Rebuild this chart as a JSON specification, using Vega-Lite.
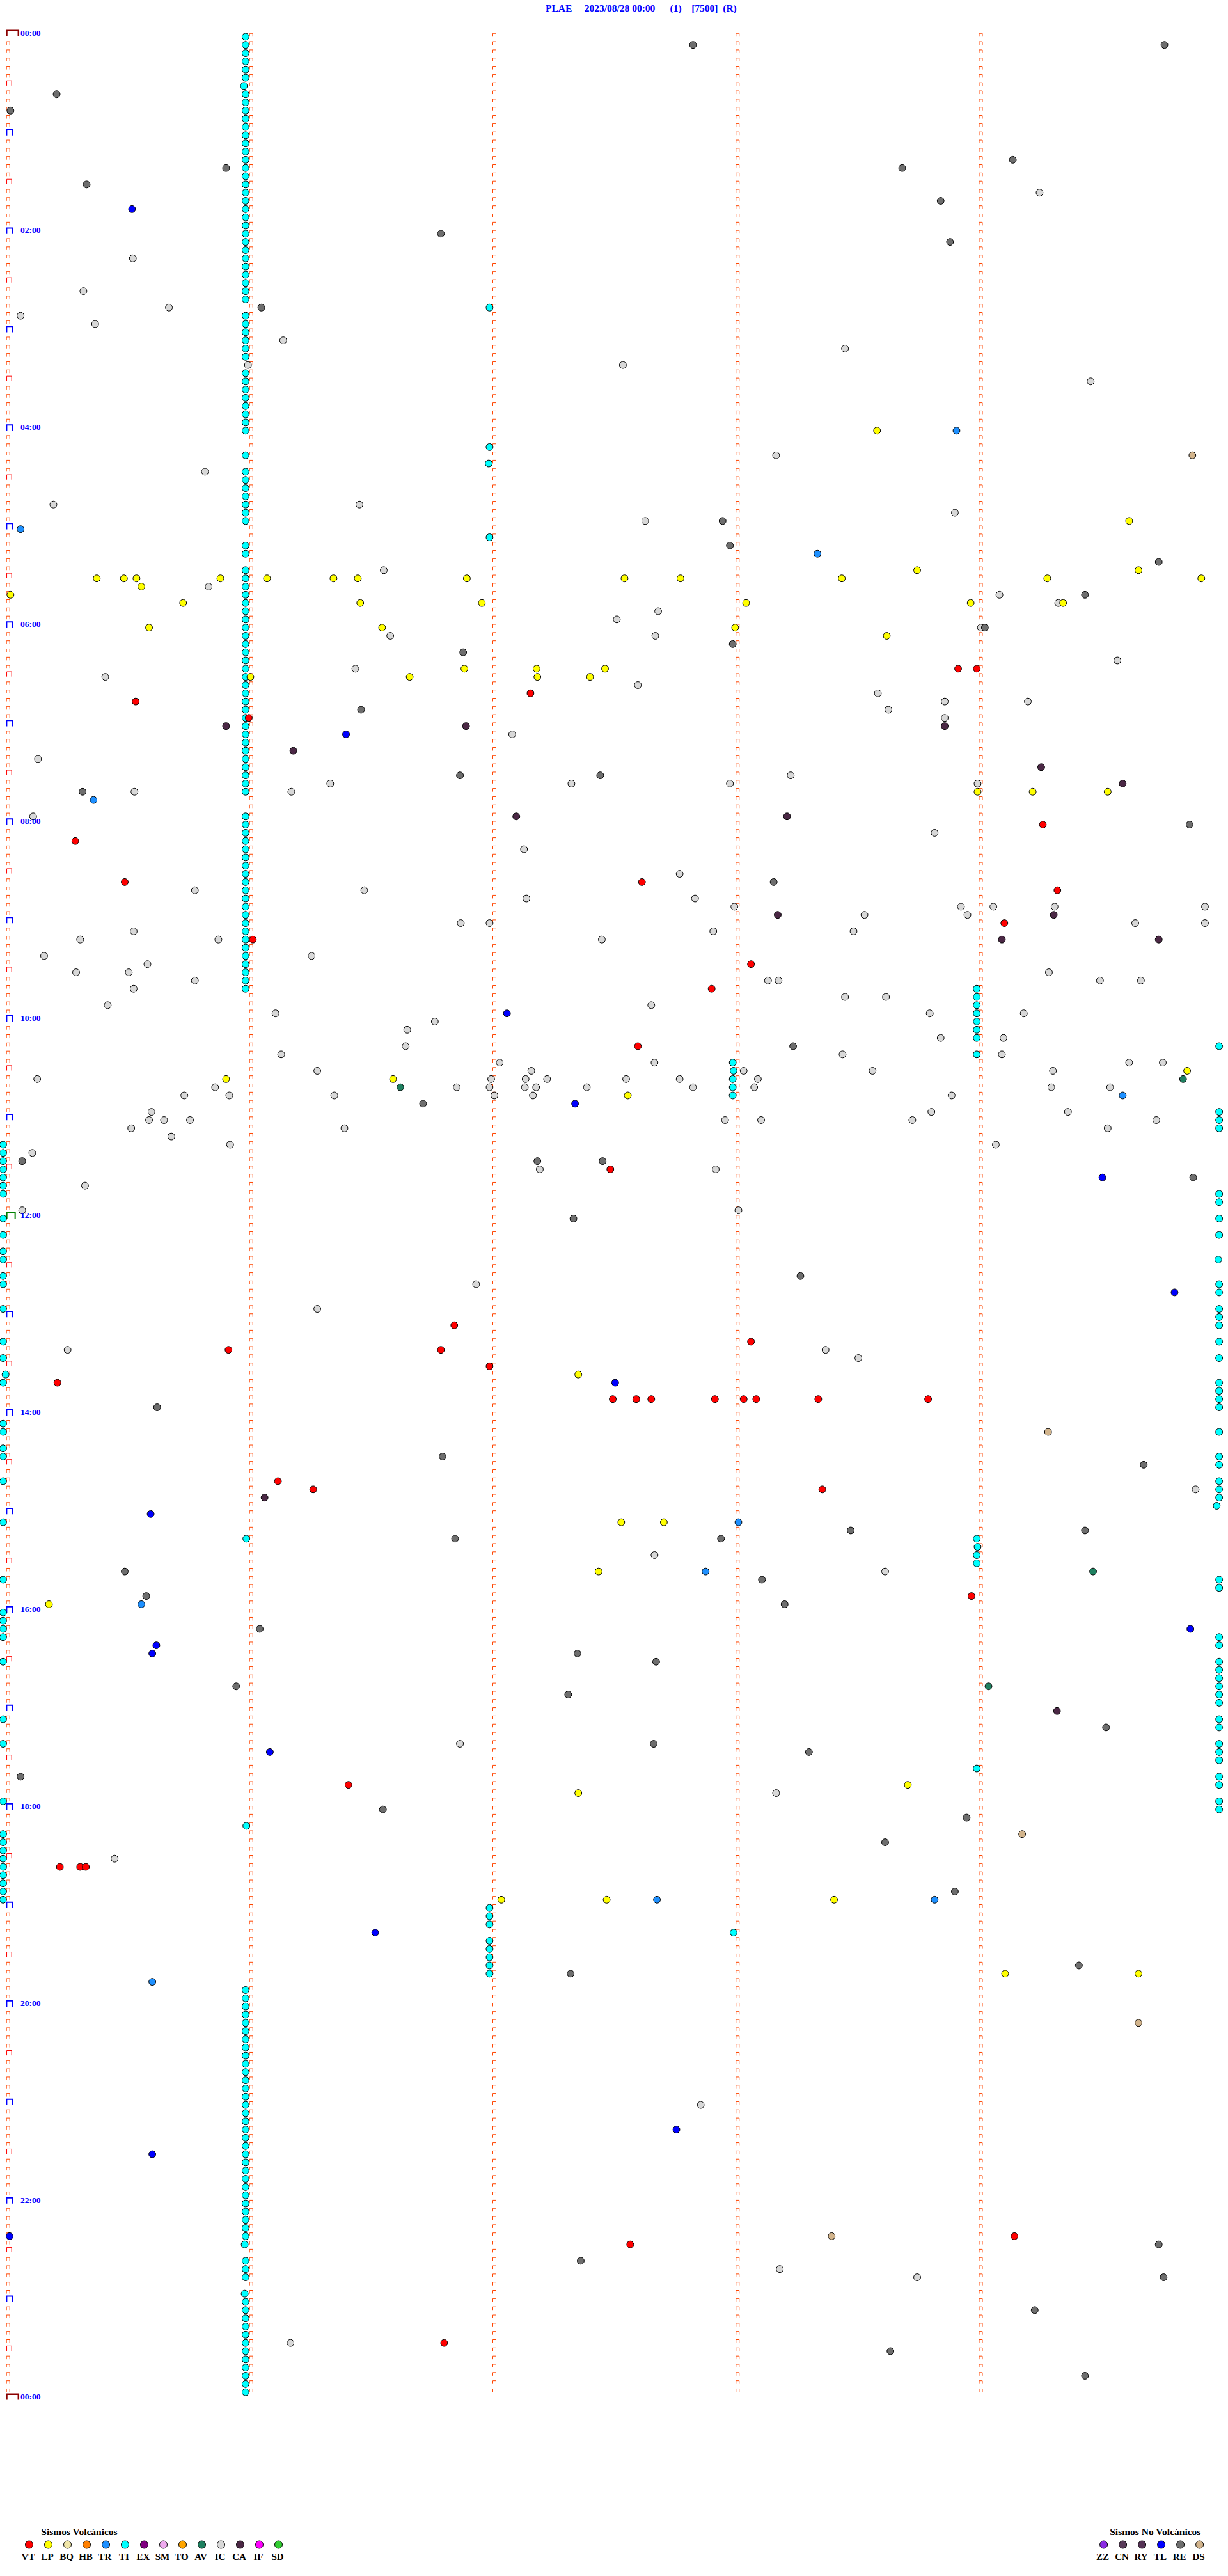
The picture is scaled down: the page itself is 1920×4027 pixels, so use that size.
{
"$schema": "https://vega.github.io/schema/vega-lite/v6.json",
"padding": {"top": 5, "left": 0, "right": 0, "bottom": 0},
"spacing": 0,
"background": "white",
"config": {"view": {"stroke": null}},
"title": {"text": "PLAE\u00a0\u00a0\u00a0\u00a0\u00a02023/08/28 00:00\u00a0\u00a0\u00a0\u00a0\u00a0\u00a0(1)\u00a0\u00a0\u00a0\u00a0[7500]\u00a0\u00a0(R)", "anchor": "start", "dx": 853, "font": "Liberation Serif", "fontSize": 15.5, "fontWeight": "bold", "color": "#0000FF", "offset": 4},
"datasets": {
"ticks": [{"r":0},{"r":1},{"r":2},{"r":3},{"r":4},{"r":5},{"r":6},{"r":7},{"r":8},{"r":9},{"r":10},{"r":11},{"r":12},{"r":13},{"r":14},{"r":15},{"r":16},{"r":17},{"r":18},{"r":19},{"r":20},{"r":21},{"r":22},{"r":23},{"r":24},{"r":25},{"r":26},{"r":27},{"r":28},{"r":29},{"r":30},{"r":31},{"r":32},{"r":33},{"r":34},{"r":35},{"r":36},{"r":37},{"r":38},{"r":39},{"r":40},{"r":41},{"r":42},{"r":43},{"r":44},{"r":45},{"r":46},{"r":47},{"r":48},{"r":49},{"r":50},{"r":51},{"r":52},{"r":53},{"r":54},{"r":55},{"r":56},{"r":57},{"r":58},{"r":59},{"r":60},{"r":61},{"r":62},{"r":63},{"r":64},{"r":65},{"r":66},{"r":67},{"r":68},{"r":69},{"r":70},{"r":71},{"r":72},{"r":73},{"r":74},{"r":75},{"r":76},{"r":77},{"r":78},{"r":79},{"r":80},{"r":81},{"r":82},{"r":83},{"r":84},{"r":85},{"r":86},{"r":87},{"r":88},{"r":89},{"r":90},{"r":91},{"r":92},{"r":93},{"r":94},{"r":95},{"r":96},{"r":97},{"r":98},{"r":99},{"r":100},{"r":101},{"r":102},{"r":103},{"r":104},{"r":105},{"r":106},{"r":107},{"r":108},{"r":109},{"r":110},{"r":111},{"r":112},{"r":113},{"r":114},{"r":115},{"r":116},{"r":117},{"r":118},{"r":119},{"r":120},{"r":121},{"r":122},{"r":123},{"r":124},{"r":125},{"r":126},{"r":127},{"r":128},{"r":129},{"r":130},{"r":131},{"r":132},{"r":133},{"r":134},{"r":135},{"r":136},{"r":137},{"r":138},{"r":139},{"r":140},{"r":141},{"r":142},{"r":143},{"r":144},{"r":145},{"r":146},{"r":147},{"r":148},{"r":149},{"r":150},{"r":151},{"r":152},{"r":153},{"r":154},{"r":155},{"r":156},{"r":157},{"r":158},{"r":159},{"r":160},{"r":161},{"r":162},{"r":163},{"r":164},{"r":165},{"r":166},{"r":167},{"r":168},{"r":169},{"r":170},{"r":171},{"r":172},{"r":173},{"r":174},{"r":175},{"r":176},{"r":177},{"r":178},{"r":179},{"r":180},{"r":181},{"r":182},{"r":183},{"r":184},{"r":185},{"r":186},{"r":187},{"r":188},{"r":189},{"r":190},{"r":191},{"r":192},{"r":193},{"r":194},{"r":195},{"r":196},{"r":197},{"r":198},{"r":199},{"r":200},{"r":201},{"r":202},{"r":203},{"r":204},{"r":205},{"r":206},{"r":207},{"r":208},{"r":209},{"r":210},{"r":211},{"r":212},{"r":213},{"r":214},{"r":215},{"r":216},{"r":217},{"r":218},{"r":219},{"r":220},{"r":221},{"r":222},{"r":223},{"r":224},{"r":225},{"r":226},{"r":227},{"r":228},{"r":229},{"r":230},{"r":231},{"r":232},{"r":233},{"r":234},{"r":235},{"r":236},{"r":237},{"r":238},{"r":239},{"r":240},{"r":241},{"r":242},{"r":243},{"r":244},{"r":245},{"r":246},{"r":247},{"r":248},{"r":249},{"r":250},{"r":251},{"r":252},{"r":253},{"r":254},{"r":255},{"r":256},{"r":257},{"r":258},{"r":259},{"r":260},{"r":261},{"r":262},{"r":263},{"r":264},{"r":265},{"r":266},{"r":267},{"r":268},{"r":269},{"r":270},{"r":271},{"r":272},{"r":273},{"r":274},{"r":275},{"r":276},{"r":277},{"r":278},{"r":279},{"r":280},{"r":281},{"r":282},{"r":283},{"r":284},{"r":285},{"r":286},{"r":287},{"r":288}],
"hrs": [{"r":0,"lbl":"00:00"},{"r":24,"lbl":"02:00"},{"r":48,"lbl":"04:00"},{"r":72,"lbl":"06:00"},{"r":96,"lbl":"08:00"},{"r":120,"lbl":"10:00"},{"r":144,"lbl":"12:00"},{"r":168,"lbl":"14:00"},{"r":192,"lbl":"16:00"},{"r":216,"lbl":"18:00"},{"r":240,"lbl":"20:00"},{"r":264,"lbl":"22:00"},{"r":288,"lbl":"00:00"}],
"ev": [
{"r":0,"s":58.6,"t":"TI"},{"r":1,"s":58.6,"t":"TI"},{"r":2,"s":58.6,"t":"TI"},{"r":3,"s":58.6,"t":"TI"},{"r":4,"s":58.6,"t":"TI"},{"r":5,"s":58.6,"t":"TI"},{"r":6,"s":58.2,"t":"TI"},{"r":7,"s":58.6,"t":"TI"},{"r":8,"s":58.6,"t":"TI"},{"r":9,"s":58.6,"t":"TI"},{"r":10,"s":58.6,"t":"TI"},{"r":11,"s":58.6,"t":"TI"},{"r":12,"s":58.6,"t":"TI"},{"r":13,"s":58.6,"t":"TI"},{"r":14,"s":58.6,"t":"TI"},{"r":15,"s":58.6,"t":"TI"},{"r":16,"s":58.6,"t":"TI"},{"r":17,"s":58.6,"t":"TI"},{"r":18,"s":58.6,"t":"TI"},{"r":19,"s":58.6,"t":"TI"},{"r":20,"s":58.6,"t":"TI"},{"r":21,"s":58.6,"t":"TI"},{"r":22,"s":58.6,"t":"TI"},{"r":23,"s":58.6,"t":"TI"},{"r":24,"s":58.6,"t":"TI"},{"r":25,"s":58.6,"t":"TI"},{"r":26,"s":58.6,"t":"TI"},{"r":27,"s":58.6,"t":"TI"},{"r":28,"s":58.6,"t":"TI"},{"r":29,"s":58.6,"t":"TI"},{"r":30,"s":58.6,"t":"TI"},{"r":31,"s":58.6,"t":"TI"},{"r":32,"s":58.6,"t":"TI"},
{"r":34,"s":58.6,"t":"TI"},{"r":35,"s":58.6,"t":"TI"},{"r":36,"s":58.6,"t":"TI"},{"r":37,"s":58.6,"t":"TI"},{"r":38,"s":58.6,"t":"TI"},{"r":39,"s":58.6,"t":"TI"},{"r":41,"s":58.6,"t":"TI"},{"r":42,"s":58.6,"t":"TI"},{"r":43,"s":58.6,"t":"TI"},{"r":44,"s":58.6,"t":"TI"},{"r":45,"s":58.6,"t":"TI"},{"r":46,"s":58.6,"t":"TI"},{"r":47,"s":58.6,"t":"TI"},{"r":48,"s":58.6,"t":"TI"},
{"r":51,"s":58.6,"t":"TI"},{"r":53,"s":58.6,"t":"TI"},{"r":54,"s":58.6,"t":"TI"},{"r":55,"s":58.6,"t":"TI"},{"r":56,"s":58.6,"t":"TI"},{"r":57,"s":58.6,"t":"TI"},{"r":58,"s":58.6,"t":"TI"},{"r":59,"s":58.6,"t":"TI"},{"r":62,"s":58.6,"t":"TI"},{"r":63,"s":58.6,"t":"TI"},
{"r":65,"s":58.6,"t":"TI"},{"r":66,"s":58.6,"t":"TI"},{"r":67,"s":58.6,"t":"TI"},{"r":68,"s":58.6,"t":"TI"},{"r":69,"s":58.6,"t":"TI"},{"r":70,"s":58.6,"t":"TI"},{"r":71,"s":58.6,"t":"TI"},{"r":72,"s":58.6,"t":"TI"},{"r":73,"s":58.6,"t":"TI"},{"r":74,"s":58.6,"t":"TI"},{"r":75,"s":58.6,"t":"TI"},{"r":76,"s":58.6,"t":"TI"},{"r":77,"s":58.6,"t":"TI"},{"r":78,"s":58.6,"t":"TI"},{"r":79,"s":58.6,"t":"TI"},{"r":80,"s":58.6,"t":"TI"},{"r":81,"s":58.6,"t":"TI"},{"r":82,"s":58.6,"t":"TI"},{"r":83,"s":58.6,"t":"TI"},{"r":84,"s":58.6,"t":"TI"},{"r":85,"s":58.6,"t":"TI"},{"r":86,"s":58.6,"t":"TI"},{"r":87,"s":58.6,"t":"TI"},{"r":88,"s":58.6,"t":"TI"},{"r":89,"s":58.6,"t":"TI"},{"r":90,"s":58.6,"t":"TI"},{"r":91,"s":58.6,"t":"TI"},{"r":92,"s":58.6,"t":"TI"},
{"r":95,"s":58.6,"t":"TI"},{"r":96,"s":58.6,"t":"TI"},{"r":97,"s":58.6,"t":"TI"},{"r":98,"s":58.6,"t":"TI"},{"r":99,"s":58.6,"t":"TI"},{"r":100,"s":58.6,"t":"TI"},{"r":101,"s":58.6,"t":"TI"},{"r":102,"s":58.6,"t":"TI"},{"r":103,"s":58.6,"t":"TI"},{"r":104,"s":58.6,"t":"TI"},{"r":105,"s":58.6,"t":"TI"},{"r":106,"s":58.6,"t":"TI"},{"r":107,"s":58.6,"t":"TI"},{"r":108,"s":58.6,"t":"TI"},{"r":109,"s":58.6,"t":"TI"},{"r":110,"s":58.6,"t":"TI"},{"r":111,"s":58.6,"t":"TI"},{"r":112,"s":58.6,"t":"TI"},{"r":113,"s":58.6,"t":"TI"},{"r":114,"s":58.6,"t":"TI"},{"r":115,"s":58.6,"t":"TI"},{"r":116,"s":58.6,"t":"TI"},
{"r":183,"s":58.8,"t":"TI"},{"r":218,"s":58.8,"t":"TI"},
{"r":238,"s":58.6,"t":"TI"},{"r":239,"s":58.6,"t":"TI"},{"r":240,"s":58.6,"t":"TI"},{"r":241,"s":58.6,"t":"TI"},{"r":242,"s":58.6,"t":"TI"},{"r":243,"s":58.6,"t":"TI"},{"r":244,"s":58.6,"t":"TI"},{"r":245,"s":58.6,"t":"TI"},{"r":246,"s":58.6,"t":"TI"},{"r":247,"s":58.6,"t":"TI"},{"r":248,"s":58.6,"t":"TI"},{"r":249,"s":58.6,"t":"TI"},{"r":250,"s":58.6,"t":"TI"},{"r":251,"s":58.6,"t":"TI"},{"r":252,"s":58.6,"t":"TI"},{"r":253,"s":58.6,"t":"TI"},{"r":254,"s":58.6,"t":"TI"},{"r":255,"s":58.6,"t":"TI"},{"r":256,"s":58.6,"t":"TI"},{"r":257,"s":58.6,"t":"TI"},{"r":258,"s":58.6,"t":"TI"},{"r":259,"s":58.6,"t":"TI"},{"r":260,"s":58.6,"t":"TI"},{"r":261,"s":58.6,"t":"TI"},{"r":262,"s":58.6,"t":"TI"},{"r":263,"s":58.6,"t":"TI"},{"r":264,"s":58.6,"t":"TI"},{"r":265,"s":58.6,"t":"TI"},{"r":266,"s":58.6,"t":"TI"},{"r":267,"s":58.6,"t":"TI"},{"r":268,"s":58.6,"t":"TI"},{"r":269,"s":58.4,"t":"TI"},
{"r":271,"s":58.6,"t":"TI"},{"r":272,"s":58.6,"t":"TI"},{"r":273,"s":58.6,"t":"TI"},
{"r":275,"s":58.4,"t":"TI"},{"r":276,"s":58.6,"t":"TI"},{"r":277,"s":58.6,"t":"TI"},{"r":278,"s":58.6,"t":"TI"},{"r":279,"s":58.6,"t":"TI"},{"r":280,"s":58.6,"t":"TI"},{"r":281,"s":58.6,"t":"TI"},{"r":282,"s":58.6,"t":"TI"},{"r":283,"s":58.6,"t":"TI"},{"r":284,"s":58.6,"t":"TI"},{"r":285,"s":58.6,"t":"TI"},{"r":286,"s":58.6,"t":"TI"},{"r":287,"s":58.6,"t":"TI"},
{"r":33,"s":118.8,"t":"TI"},{"r":50,"s":118.8,"t":"TI"},{"r":52,"s":118.6,"t":"TI"},{"r":61,"s":118.8,"t":"TI"},{"r":228,"s":118.8,"t":"TI"},{"r":229,"s":118.8,"t":"TI"},{"r":230,"s":118.8,"t":"TI"},{"r":232,"s":118.8,"t":"TI"},{"r":233,"s":118.8,"t":"TI"},{"r":234,"s":118.8,"t":"TI"},{"r":235,"s":118.8,"t":"TI"},{"r":236,"s":118.8,"t":"TI"},
{"r":125,"s":178.8,"t":"TI"},{"r":126,"s":179.0,"t":"TI"},{"r":127,"s":178.8,"t":"TI"},{"r":128,"s":178.8,"t":"TI"},{"r":129,"s":178.8,"t":"TI"},{"r":231,"s":179.0,"t":"TI"},
{"r":116,"s":239.0,"t":"TI"},{"r":117,"s":239.0,"t":"TI"},{"r":118,"s":239.0,"t":"TI"},{"r":119,"s":239.0,"t":"TI"},{"r":120,"s":239.0,"t":"TI"},{"r":121,"s":239.0,"t":"TI"},{"r":122,"s":239.0,"t":"TI"},{"r":124,"s":239.0,"t":"TI"},{"r":183,"s":239.0,"t":"TI"},{"r":184,"s":239.2,"t":"TI"},{"r":185,"s":239.0,"t":"TI"},{"r":186,"s":239.0,"t":"TI"},{"r":211,"s":239.0,"t":"TI"},
{"r":123,"s":298.8,"t":"TI"},{"r":131,"s":298.8,"t":"TI"},{"r":132,"s":298.8,"t":"TI"},{"r":133,"s":298.8,"t":"TI"},{"r":141,"s":298.8,"t":"TI"},{"r":142,"s":298.8,"t":"TI"},{"r":144,"s":298.8,"t":"TI"},{"r":146,"s":298.8,"t":"TI"},{"r":149,"s":298.6,"t":"TI"},{"r":152,"s":298.8,"t":"TI"},{"r":153,"s":298.8,"t":"TI"},{"r":155,"s":298.8,"t":"TI"},{"r":156,"s":298.8,"t":"TI"},{"r":157,"s":298.8,"t":"TI"},{"r":159,"s":298.8,"t":"TI"},{"r":161,"s":298.8,"t":"TI"},{"r":164,"s":298.8,"t":"TI"},{"r":165,"s":298.8,"t":"TI"},{"r":166,"s":298.8,"t":"TI"},{"r":167,"s":298.8,"t":"TI"},{"r":170,"s":298.8,"t":"TI"},{"r":173,"s":298.8,"t":"TI"},{"r":174,"s":298.8,"t":"TI"},{"r":176,"s":298.8,"t":"TI"},{"r":177,"s":298.8,"t":"TI"},{"r":178,"s":298.8,"t":"TI"},{"r":179,"s":298.2,"t":"TI"},{"r":188,"s":298.8,"t":"TI"},{"r":189,"s":298.8,"t":"TI"},{"r":195,"s":298.8,"t":"TI"},{"r":196,"s":298.8,"t":"TI"},{"r":198,"s":298.8,"t":"TI"},{"r":199,"s":298.8,"t":"TI"},{"r":200,"s":298.8,"t":"TI"},{"r":201,"s":298.8,"t":"TI"},{"r":202,"s":298.8,"t":"TI"},{"r":203,"s":298.8,"t":"TI"},{"r":205,"s":298.8,"t":"TI"},{"r":206,"s":298.8,"t":"TI"},{"r":208,"s":298.8,"t":"TI"},{"r":209,"s":298.8,"t":"TI"},{"r":210,"s":298.8,"t":"TI"},{"r":212,"s":298.8,"t":"TI"},{"r":213,"s":298.8,"t":"TI"},{"r":215,"s":298.8,"t":"TI"},{"r":216,"s":298.8,"t":"TI"},
{"r":135,"s":-1.2,"t":"TI"},{"r":136,"s":-1.2,"t":"TI"},{"r":137,"s":-1.2,"t":"TI"},{"r":138,"s":-1.2,"t":"TI"},{"r":139,"s":-1.2,"t":"TI"},{"r":140,"s":-1.2,"t":"TI"},{"r":141,"s":-1.2,"t":"TI"},{"r":144,"s":-1.2,"t":"TI"},{"r":146,"s":-1.2,"t":"TI"},{"r":148,"s":-1.2,"t":"TI"},{"r":149,"s":-1.2,"t":"TI"},{"r":151,"s":-1.2,"t":"TI"},{"r":152,"s":-1.2,"t":"TI"},{"r":155,"s":-1.2,"t":"TI"},{"r":159,"s":-1.2,"t":"TI"},{"r":161,"s":-1.2,"t":"TI"},{"r":163,"s":-0.6,"t":"TI"},{"r":164,"s":-1.2,"t":"TI"},{"r":169,"s":-1.2,"t":"TI"},{"r":170,"s":-1.2,"t":"TI"},{"r":172,"s":-1.2,"t":"TI"},{"r":173,"s":-1.2,"t":"TI"},{"r":176,"s":-1.2,"t":"TI"},{"r":181,"s":-1.2,"t":"TI"},{"r":188,"s":-1.2,"t":"TI"},{"r":192,"s":-1.2,"t":"TI"},{"r":193,"s":-1.2,"t":"TI"},{"r":194,"s":-1.2,"t":"TI"},{"r":195,"s":-1.2,"t":"TI"},{"r":198,"s":-1.2,"t":"TI"},{"r":205,"s":-1.2,"t":"TI"},{"r":208,"s":-1.2,"t":"TI"},{"r":215,"s":-1.2,"t":"TI"},{"r":219,"s":-1.2,"t":"TI"},{"r":220,"s":-1.2,"t":"TI"},{"r":221,"s":-1.2,"t":"TI"},{"r":222,"s":-1.2,"t":"TI"},{"r":223,"s":-1.2,"t":"TI"},{"r":224,"s":-1.2,"t":"TI"},{"r":225,"s":-1.2,"t":"TI"},{"r":226,"s":-1.2,"t":"TI"},{"r":227,"s":-1.2,"t":"TI"},
{"r":1,"s":169.0,"t":"RE"},{"r":1,"s":285.3,"t":"RE"},{"r":7,"s":12.0,"t":"RE"},{"r":9,"s":0.6,"t":"RE"},{"r":15,"s":247.9,"t":"RE"},{"r":16,"s":53.8,"t":"RE"},{"r":16,"s":220.6,"t":"RE"},{"r":18,"s":19.4,"t":"RE"},{"r":19,"s":254.5,"t":"IC"},{"r":20,"s":230.1,"t":"RE"},{"r":21,"s":30.6,"t":"TL"},{"r":24,"s":106.8,"t":"RE"},{"r":25,"s":232.4,"t":"RE"},{"r":27,"s":30.8,"t":"IC"},{"r":31,"s":18.6,"t":"IC"},{"r":33,"s":39.7,"t":"IC"},{"r":33,"s":62.5,"t":"RE"},{"r":34,"s":3.1,"t":"IC"},{"r":35,"s":21.5,"t":"IC"},{"r":37,"s":67.9,"t":"IC"},{"r":38,"s":206.5,"t":"IC"},{"r":40,"s":151.7,"t":"IC"},{"r":40,"s":59.2,"t":"IC"},{"r":42,"s":267.1,"t":"IC"},{"r":48,"s":214.4,"t":"LP"},{"r":48,"s":234.0,"t":"TR"},{"r":51,"s":189.5,"t":"IC"},{"r":51,"s":292.2,"t":"DS"},{"r":53,"s":48.6,"t":"IC"},{"r":57,"s":11.2,"t":"IC"},{"r":57,"s":86.7,"t":"IC"},{"r":58,"s":233.6,"t":"IC"},{"r":59,"s":157.2,"t":"IC"},{"r":59,"s":176.3,"t":"RE"},{"r":59,"s":276.6,"t":"LP"},{"r":60,"s":3.1,"t":"TR"},{"r":62,"s":178.1,"t":"RE"},{"r":63,"s":199.7,"t":"TR"},{"r":64,"s":283.9,"t":"RE"},{"r":65,"s":92.7,"t":"IC"},{"r":65,"s":224.3,"t":"LP"},{"r":65,"s":278.9,"t":"LP"},
{"r":66,"s":21.9,"t":"LP"},{"r":66,"s":28.6,"t":"LP"},{"r":66,"s":31.7,"t":"LP"},{"r":66,"s":52.4,"t":"LP"},{"r":66,"s":63.9,"t":"LP"},{"r":66,"s":80.3,"t":"LP"},{"r":66,"s":86.3,"t":"LP"},{"r":66,"s":113.2,"t":"LP"},{"r":66,"s":152.1,"t":"LP"},{"r":66,"s":165.9,"t":"LP"},{"r":66,"s":205.7,"t":"LP"},{"r":66,"s":256.4,"t":"LP"},{"r":66,"s":294.4,"t":"LP"},
{"r":67,"s":32.9,"t":"LP"},{"r":67,"s":49.5,"t":"IC"},{"r":68,"s":0.6,"t":"LP"},{"r":68,"s":244.6,"t":"IC"},{"r":68,"s":265.7,"t":"RE"},
{"r":69,"s":43.2,"t":"LP"},{"r":69,"s":86.9,"t":"LP"},{"r":69,"s":116.9,"t":"LP"},{"r":69,"s":182.1,"t":"LP"},{"r":69,"s":237.5,"t":"LP"},{"r":69,"s":259.1,"t":"IC"},{"r":69,"s":260.3,"t":"LP"},
{"r":70,"s":160.4,"t":"IC"},{"r":71,"s":150.2,"t":"IC"},
{"r":72,"s":34.8,"t":"LP"},{"r":72,"s":92.3,"t":"LP"},{"r":72,"s":179.4,"t":"LP"},{"r":72,"s":240.0,"t":"IC"},{"r":72,"s":241.0,"t":"RE"},
{"r":73,"s":94.3,"t":"IC"},{"r":73,"s":159.7,"t":"IC"},{"r":73,"s":216.8,"t":"LP"},{"r":74,"s":178.8,"t":"RE"},{"r":75,"s":112.3,"t":"RE"},{"r":76,"s":273.7,"t":"IC"},
{"r":77,"s":85.7,"t":"IC"},{"r":77,"s":112.6,"t":"LP"},{"r":77,"s":130.4,"t":"LP"},{"r":77,"s":147.3,"t":"LP"},{"r":77,"s":234.4,"t":"VT"},{"r":77,"s":239.0,"t":"VT"},
{"r":78,"s":24.0,"t":"IC"},{"r":78,"s":59.8,"t":"LP"},{"r":78,"s":99.1,"t":"LP"},{"r":78,"s":130.6,"t":"LP"},{"r":78,"s":143.6,"t":"LP"},
{"r":79,"s":155.4,"t":"IC"},{"r":80,"s":128.9,"t":"VT"},{"r":80,"s":214.6,"t":"IC"},{"r":81,"s":31.5,"t":"VT"},{"r":81,"s":231.1,"t":"IC"},{"r":81,"s":251.6,"t":"IC"},{"r":82,"s":87.1,"t":"RE"},{"r":82,"s":217.2,"t":"IC"},{"r":83,"s":59.4,"t":"VT"},{"r":83,"s":231.1,"t":"IC"},
{"r":84,"s":53.8,"t":"CA"},{"r":84,"s":113.0,"t":"CA"},{"r":84,"s":231.1,"t":"CA"},{"r":85,"s":83.4,"t":"TL"},{"r":85,"s":124.4,"t":"IC"},{"r":87,"s":70.4,"t":"CA"},{"r":88,"s":7.4,"t":"IC"},{"r":89,"s":254.9,"t":"CA"},
{"r":90,"s":111.5,"t":"RE"},{"r":90,"s":146.1,"t":"RE"},{"r":90,"s":193.1,"t":"IC"},
{"r":91,"s":79.5,"t":"IC"},{"r":91,"s":139.0,"t":"IC"},{"r":91,"s":178.1,"t":"IC"},{"r":91,"s":239.2,"t":"IC"},{"r":91,"s":275.0,"t":"CA"},
{"r":92,"s":18.4,"t":"RE"},{"r":92,"s":31.2,"t":"IC"},{"r":92,"s":69.9,"t":"IC"},{"r":92,"s":239.2,"t":"LP"},{"r":92,"s":252.8,"t":"LP"},{"r":92,"s":271.3,"t":"LP"},
{"r":93,"s":21.1,"t":"TR"},{"r":95,"s":6.2,"t":"IC"},{"r":95,"s":125.4,"t":"CA"},{"r":95,"s":192.2,"t":"CA"},{"r":96,"s":255.3,"t":"VT"},{"r":96,"s":291.5,"t":"RE"},{"r":97,"s":228.6,"t":"IC"},{"r":98,"s":16.6,"t":"VT"},{"r":99,"s":127.3,"t":"IC"},{"r":102,"s":165.7,"t":"IC"},
{"r":103,"s":28.8,"t":"VT"},{"r":103,"s":156.4,"t":"VT"},{"r":103,"s":188.9,"t":"RE"},
{"r":104,"s":46.1,"t":"IC"},{"r":104,"s":87.9,"t":"IC"},{"r":104,"s":258.9,"t":"VT"},{"r":105,"s":127.9,"t":"IC"},{"r":105,"s":169.5,"t":"IC"},
{"r":106,"s":179.2,"t":"IC"},{"r":106,"s":235.1,"t":"IC"},{"r":106,"s":243.1,"t":"IC"},{"r":106,"s":258.2,"t":"IC"},{"r":106,"s":295.3,"t":"IC"},
{"r":107,"s":189.9,"t":"CA"},{"r":107,"s":211.3,"t":"IC"},{"r":107,"s":236.7,"t":"IC"},{"r":107,"s":258.0,"t":"CA"},
{"r":108,"s":111.7,"t":"IC"},{"r":108,"s":118.8,"t":"IC"},{"r":108,"s":245.8,"t":"VT"},{"r":108,"s":278.1,"t":"IC"},{"r":108,"s":295.3,"t":"IC"},
{"r":109,"s":31.0,"t":"IC"},{"r":109,"s":174.0,"t":"IC"},{"r":109,"s":208.6,"t":"IC"},
{"r":110,"s":17.8,"t":"IC"},{"r":110,"s":51.9,"t":"IC"},{"r":110,"s":60.4,"t":"VT"},{"r":110,"s":146.5,"t":"IC"},{"r":110,"s":245.2,"t":"CA"},{"r":110,"s":283.9,"t":"CA"},
{"r":112,"s":8.9,"t":"IC"},{"r":112,"s":74.9,"t":"IC"},{"r":113,"s":34.4,"t":"IC"},{"r":113,"s":183.3,"t":"VT"},
{"r":114,"s":16.8,"t":"IC"},{"r":114,"s":29.8,"t":"IC"},{"r":114,"s":256.8,"t":"IC"},
{"r":115,"s":46.1,"t":"IC"},{"r":115,"s":187.5,"t":"IC"},{"r":115,"s":190.1,"t":"IC"},{"r":115,"s":269.4,"t":"IC"},{"r":115,"s":279.5,"t":"IC"},
{"r":116,"s":31.0,"t":"IC"},{"r":116,"s":173.6,"t":"VT"},{"r":117,"s":206.5,"t":"IC"},{"r":117,"s":216.6,"t":"IC"},{"r":118,"s":24.6,"t":"IC"},{"r":118,"s":158.7,"t":"IC"},
{"r":119,"s":66.0,"t":"IC"},{"r":119,"s":123.1,"t":"TL"},{"r":119,"s":227.4,"t":"IC"},{"r":119,"s":250.6,"t":"IC"},
{"r":120,"s":105.3,"t":"IC"},{"r":121,"s":98.5,"t":"IC"},{"r":122,"s":230.1,"t":"IC"},{"r":122,"s":245.6,"t":"IC"},
{"r":123,"s":98.1,"t":"IC"},{"r":123,"s":155.4,"t":"VT"},{"r":123,"s":193.7,"t":"RE"},
{"r":124,"s":67.4,"t":"IC"},{"r":124,"s":205.9,"t":"IC"},{"r":124,"s":245.2,"t":"IC"},
{"r":125,"s":121.3,"t":"IC"},{"r":125,"s":159.5,"t":"IC"},{"r":125,"s":276.6,"t":"IC"},{"r":125,"s":284.9,"t":"IC"},
{"r":126,"s":76.3,"t":"IC"},{"r":126,"s":129.1,"t":"IC"},{"r":126,"s":181.5,"t":"IC"},{"r":126,"s":213.3,"t":"IC"},{"r":126,"s":257.8,"t":"IC"},{"r":126,"s":290.9,"t":"LP"},
{"r":127,"s":7.2,"t":"IC"},{"r":127,"s":53.8,"t":"LP"},{"r":127,"s":95.0,"t":"LP"},{"r":127,"s":119.2,"t":"IC"},{"r":127,"s":127.7,"t":"IC"},{"r":127,"s":133.0,"t":"IC"},{"r":127,"s":152.5,"t":"IC"},{"r":127,"s":165.7,"t":"IC"},{"r":127,"s":185.0,"t":"IC"},{"r":127,"s":289.9,"t":"AV"},
{"r":128,"s":51.1,"t":"IC"},{"r":128,"s":96.8,"t":"AV"},{"r":128,"s":110.7,"t":"IC"},{"r":128,"s":118.8,"t":"IC"},{"r":128,"s":127.5,"t":"IC"},{"r":128,"s":130.3,"t":"IC"},{"r":128,"s":142.8,"t":"IC"},{"r":128,"s":169.0,"t":"IC"},{"r":128,"s":184.1,"t":"IC"},{"r":128,"s":257.4,"t":"IC"},{"r":128,"s":271.9,"t":"IC"},
{"r":129,"s":43.5,"t":"IC"},{"r":129,"s":54.6,"t":"IC"},{"r":129,"s":80.5,"t":"IC"},{"r":129,"s":120.0,"t":"IC"},{"r":129,"s":129.5,"t":"IC"},{"r":129,"s":152.9,"t":"LP"},{"r":129,"s":232.8,"t":"IC"},{"r":129,"s":275.0,"t":"TR"},
{"r":130,"s":102.4,"t":"RE"},{"r":130,"s":139.9,"t":"TL"},
{"r":131,"s":35.4,"t":"IC"},{"r":131,"s":227.8,"t":"IC"},{"r":131,"s":261.5,"t":"IC"},
{"r":132,"s":34.8,"t":"IC"},{"r":132,"s":38.5,"t":"IC"},{"r":132,"s":44.9,"t":"IC"},{"r":132,"s":176.9,"t":"IC"},{"r":132,"s":185.8,"t":"IC"},{"r":132,"s":223.1,"t":"IC"},{"r":132,"s":283.3,"t":"IC"},
{"r":133,"s":30.4,"t":"IC"},{"r":133,"s":83.0,"t":"IC"},{"r":133,"s":271.3,"t":"IC"},{"r":134,"s":40.3,"t":"IC"},{"r":135,"s":54.8,"t":"IC"},{"r":135,"s":243.7,"t":"IC"},{"r":136,"s":6.0,"t":"IC"},
{"r":137,"s":3.5,"t":"RE"},{"r":137,"s":130.6,"t":"RE"},{"r":137,"s":146.7,"t":"RE"},
{"r":138,"s":131.2,"t":"IC"},{"r":138,"s":148.6,"t":"VT"},{"r":138,"s":174.6,"t":"IC"},
{"r":139,"s":270.0,"t":"TL"},{"r":139,"s":292.4,"t":"RE"},{"r":140,"s":19.0,"t":"IC"},{"r":143,"s":180.2,"t":"IC"},{"r":143,"s":3.5,"t":"IC"},{"r":144,"s":139.5,"t":"RE"},
{"r":151,"s":195.5,"t":"RE"},{"r":152,"s":115.5,"t":"IC"},{"r":153,"s":287.8,"t":"TL"},{"r":155,"s":76.3,"t":"IC"},{"r":157,"s":110.1,"t":"VT"},{"r":159,"s":183.3,"t":"VT"},
{"r":160,"s":14.7,"t":"IC"},{"r":160,"s":54.4,"t":"VT"},{"r":160,"s":106.8,"t":"VT"},{"r":160,"s":201.7,"t":"IC"},
{"r":161,"s":209.8,"t":"IC"},{"r":162,"s":118.8,"t":"VT"},{"r":163,"s":140.7,"t":"LP"},{"r":164,"s":12.2,"t":"VT"},{"r":164,"s":149.8,"t":"TL"},
{"r":166,"s":149.2,"t":"VT"},{"r":166,"s":155.0,"t":"VT"},{"r":166,"s":158.7,"t":"VT"},{"r":166,"s":174.4,"t":"VT"},{"r":166,"s":181.5,"t":"VT"},{"r":166,"s":184.6,"t":"VT"},{"r":166,"s":199.9,"t":"VT"},{"r":166,"s":227.0,"t":"VT"},
{"r":167,"s":36.8,"t":"RE"},{"r":170,"s":256.6,"t":"DS"},{"r":173,"s":107.2,"t":"RE"},{"r":174,"s":280.2,"t":"RE"},
{"r":176,"s":66.6,"t":"VT"},{"r":177,"s":75.3,"t":"VT"},{"r":177,"s":200.9,"t":"VT"},{"r":177,"s":293.0,"t":"IC"},{"r":178,"s":63.3,"t":"CA"},{"r":180,"s":35.2,"t":"TL"},
{"r":181,"s":151.3,"t":"LP"},{"r":181,"s":161.8,"t":"LP"},{"r":181,"s":180.2,"t":"TR"},
{"r":182,"s":207.9,"t":"RE"},{"r":182,"s":265.7,"t":"RE"},{"r":183,"s":110.3,"t":"RE"},{"r":183,"s":175.9,"t":"RE"},{"r":185,"s":159.5,"t":"IC"},
{"r":187,"s":28.8,"t":"RE"},{"r":187,"s":145.7,"t":"LP"},{"r":187,"s":172.1,"t":"TR"},{"r":187,"s":216.4,"t":"IC"},{"r":187,"s":267.7,"t":"AV"},
{"r":188,"s":186.0,"t":"RE"},{"r":190,"s":34.1,"t":"RE"},{"r":190,"s":237.7,"t":"VT"},
{"r":191,"s":10.1,"t":"LP"},{"r":191,"s":32.9,"t":"TR"},{"r":191,"s":191.6,"t":"RE"},
{"r":194,"s":62.1,"t":"RE"},{"r":194,"s":291.7,"t":"TL"},{"r":196,"s":36.6,"t":"TL"},{"r":197,"s":35.6,"t":"TL"},{"r":197,"s":140.5,"t":"RE"},{"r":198,"s":159.9,"t":"RE"},
{"r":201,"s":56.3,"t":"RE"},{"r":201,"s":241.9,"t":"AV"},{"r":202,"s":138.2,"t":"RE"},{"r":204,"s":258.8,"t":"CA"},{"r":206,"s":270.9,"t":"RE"},
{"r":208,"s":111.5,"t":"IC"},{"r":208,"s":159.3,"t":"RE"},{"r":209,"s":64.6,"t":"TL"},{"r":209,"s":197.6,"t":"RE"},
{"r":212,"s":3.1,"t":"RE"},{"r":213,"s":84.0,"t":"VT"},{"r":213,"s":222.0,"t":"LP"},{"r":214,"s":140.7,"t":"LP"},{"r":214,"s":189.5,"t":"IC"},{"r":216,"s":92.5,"t":"RE"},{"r":217,"s":236.5,"t":"RE"},
{"r":219,"s":250.2,"t":"DS"},{"r":220,"s":216.4,"t":"RE"},{"r":222,"s":26.3,"t":"IC"},
{"r":223,"s":12.8,"t":"VT"},{"r":223,"s":17.8,"t":"VT"},{"r":223,"s":19.2,"t":"VT"},{"r":226,"s":233.6,"t":"RE"},
{"r":227,"s":121.7,"t":"LP"},{"r":227,"s":147.7,"t":"LP"},{"r":227,"s":160.1,"t":"TR"},{"r":227,"s":203.8,"t":"LP"},{"r":227,"s":228.6,"t":"TR"},
{"r":231,"s":90.6,"t":"TL"},{"r":235,"s":264.2,"t":"RE"},{"r":236,"s":138.8,"t":"RE"},{"r":236,"s":246.0,"t":"LP"},{"r":236,"s":278.9,"t":"LP"},{"r":237,"s":35.6,"t":"TR"},{"r":242,"s":278.9,"t":"DS"},
{"r":252,"s":170.9,"t":"IC"},{"r":255,"s":164.9,"t":"TL"},{"r":258,"s":35.6,"t":"TL"},
{"r":268,"s":0.4,"t":"TL"},{"r":268,"s":203.2,"t":"DS"},{"r":268,"s":248.3,"t":"VT"},{"r":269,"s":153.5,"t":"VT"},{"r":269,"s":283.9,"t":"RE"},
{"r":271,"s":141.3,"t":"RE"},{"r":272,"s":190.4,"t":"IC"},{"r":273,"s":224.3,"t":"IC"},{"r":273,"s":285.1,"t":"RE"},{"r":277,"s":253.3,"t":"RE"},
{"r":281,"s":69.7,"t":"IC"},{"r":281,"s":107.6,"t":"VT"},{"r":282,"s":217.7,"t":"RE"},{"r":285,"s":265.7,"t":"RE"}
],
"legV": [{"code":"VT"},{"code":"LP"},{"code":"BQ"},{"code":"HB"},{"code":"TR"},{"code":"TI"},{"code":"EX"},{"code":"SM"},{"code":"TO"},{"code":"AV"},{"code":"IC"},{"code":"CA"},{"code":"IF"},{"code":"SD"}],
"legN": [{"code":"ZZ"},{"code":"CN"},{"code":"RY"},{"code":"TL"},{"code":"RE"},{"code":"DS"}]
},
"vconcat": [
{
"width": 1920,
"height": 3923,
"layer": [
{"data": {"name": "ticks"}, "transform": [{"filter": "datum.r % 6 != 0"}],
 "mark": {"type": "point", "shape": "M-1,1L-1,-1L1,-1L1,1", "filled": false, "size": 25, "strokeWidth": 1, "color": "#FF4500", "opacity": 1, "yOffset": -2.65, "xOffset": 0.2},
 "encoding": {"x": {"datum": 0, "type": "quantitative", "scale": {"domain": [-1.972, 300.986], "nice": false, "zero": false}, "axis": null},
              "y": {"field": "r", "type": "quantitative", "scale": {"domain": [-2.525, 303.24], "reverse": true, "nice": false, "zero": false}, "axis": null}}},
{"data": {"name": "ticks"}, "transform": [{"filter": "datum.r < 288"}],
 "mark": {"type": "point", "shape": "M-1,1L-1,-1L1,-1L1,1", "filled": false, "size": 25, "strokeWidth": 1, "color": "#FF4500", "opacity": 1, "yOffset": -2.65},
 "encoding": {"x": {"datum": 60, "type": "quantitative"}, "y": {"field": "r", "type": "quantitative"}}},
{"data": {"name": "ticks"}, "transform": [{"filter": "datum.r < 288"}],
 "mark": {"type": "point", "shape": "M-1,1L-1,-1L1,-1L1,1", "filled": false, "size": 25, "strokeWidth": 1, "color": "#FF4500", "opacity": 1, "yOffset": -2.65},
 "encoding": {"x": {"datum": 120, "type": "quantitative"}, "y": {"field": "r", "type": "quantitative"}}},
{"data": {"name": "ticks"}, "transform": [{"filter": "datum.r < 288"}],
 "mark": {"type": "point", "shape": "M-1,1L-1,-1L1,-1L1,1", "filled": false, "size": 25, "strokeWidth": 1, "color": "#FF4500", "opacity": 1, "yOffset": -2.65},
 "encoding": {"x": {"datum": 180, "type": "quantitative"}, "y": {"field": "r", "type": "quantitative"}}},
{"data": {"name": "ticks"}, "transform": [{"filter": "datum.r < 288"}],
 "mark": {"type": "point", "shape": "M-1,1L-1,-1L1,-1L1,1", "filled": false, "size": 25, "strokeWidth": 1, "color": "#FF4500", "opacity": 1, "yOffset": -2.65},
 "encoding": {"x": {"datum": 240, "type": "quantitative"}, "y": {"field": "r", "type": "quantitative"}}},
{"data": {"name": "ticks"}, "transform": [{"filter": "datum.r % 12 == 6"}],
 "mark": {"type": "point", "shape": "M-1,1L-1,-1L1,-1L1,1", "filled": false, "size": 58, "strokeWidth": 1, "color": "#FF0000", "opacity": 1, "yOffset": -4.3, "xOffset": 1.85},
 "encoding": {"x": {"datum": 0, "type": "quantitative"}, "y": {"field": "r", "type": "quantitative"}}},
{"data": {"name": "ticks"}, "transform": [{"filter": "datum.r % 12 == 0 && datum.r % 288 != 0 && datum.r != 144"}],
 "mark": {"type": "point", "shape": "M-1,1L-1,-1L1,-1L1,1", "filled": false, "size": 85, "strokeWidth": 2, "color": "#0000FF", "opacity": 1, "yOffset": -4.3, "xOffset": 2.5},
 "encoding": {"x": {"datum": 0, "type": "quantitative"}, "y": {"field": "r", "type": "quantitative"}}},
{"data": {"name": "ticks"}, "transform": [{"filter": "datum.r % 288 == 0"}],
 "mark": {"type": "point", "shape": "M-1,0.48L-1,-0.48L1,-0.48L1,0.48", "filled": false, "size": 335, "strokeWidth": 2.5, "color": "#8B0000", "opacity": 1, "yOffset": -5.3, "xOffset": 7.15},
 "encoding": {"x": {"datum": 0, "type": "quantitative"}, "y": {"field": "r", "type": "quantitative"}}},
{"data": {"name": "ticks"}, "transform": [{"filter": "datum.r == 144"}],
 "mark": {"type": "point", "shape": "M-1,0.69L-1,-0.69L1,-0.69L1,0.69", "filled": false, "size": 169, "strokeWidth": 2, "color": "#008000", "opacity": 1, "yOffset": -4.4, "xOffset": 4.65},
 "encoding": {"x": {"datum": 0, "type": "quantitative"}, "y": {"field": "r", "type": "quantitative"}}},
{"data": {"name": "ev"},
 "mark": {"type": "point", "shape": "circle", "filled": true, "size": 118, "stroke": "#000000", "strokeWidth": 1, "opacity": 1, "clip": true},
 "encoding": {"x": {"field": "s", "type": "quantitative"}, "y": {"field": "r", "type": "quantitative"},
   "color": {"field": "t", "type": "nominal", "legend": null,
     "scale": {"domain": ["VT","LP","BQ","HB","TR","TI","EX","SM","TO","AV","IC","CA","IF","SD","ZZ","CN","RY","TL","RE","DS"],
               "range": ["#FF0000","#FFFF00","#F0E6A8","#FF8000","#1E90FF","#00FFFF","#800080","#EEAAEE","#FFA500","#1F8060","#D8D8D8","#4B2845","#FF00FF","#32CD32","#8A2BE2","#5A3C5A","#553355","#0000FF","#6E6E6E","#D2B48C"]}}}},
{"data": {"name": "hrs"},
 "mark": {"type": "text", "align": "left", "baseline": "middle", "dx": 19.5, "dy": -5, "font": "Liberation Serif", "fontSize": 13.5, "fontWeight": "bold", "color": "#0000FF"},
 "encoding": {"x": {"datum": 0, "type": "quantitative"}, "y": {"field": "r", "type": "quantitative"}, "text": {"field": "lbl"}}}
]
},
{
"hconcat": [
{
"width": 481, "height": 60,
"data": {"name": "legV"},
"layer": [
{"mark": {"type": "point", "shape": "circle", "filled": true, "size": 144, "stroke": "#000000", "strokeWidth": 1, "opacity": 1},
 "encoding": {"x": {"field": "code", "type": "nominal", "axis": null, "sort": null, "scale": {"type": "point", "domain": ["VT","LP","BQ","HB","TR","TI","EX","SM","TO","AV","IC","CA","IF","SD"], "range": [45.5, 435.5], "padding": 0}},
   "color": {"field": "code", "type": "nominal", "legend": null,
     "scale": {"domain": ["VT","LP","BQ","HB","TR","TI","EX","SM","TO","AV","IC","CA","IF","SD","ZZ","CN","RY","TL","RE","DS"],
               "range": ["#FF0000","#FFFF00","#F0E6A8","#FF8000","#1E90FF","#00FFFF","#800080","#EEAAEE","#FFA500","#1F8060","#D8D8D8","#4B2845","#FF00FF","#32CD32","#8A2BE2","#5A3C5A","#553355","#0000FF","#6E6E6E","#D2B48C"]}}}},
{"mark": {"type": "text", "baseline": "middle", "dy": 18.5, "dx": -1.5, "font": "Liberation Serif", "fontSize": 15, "fontWeight": "bold", "color": "#000000"},
 "encoding": {"x": {"field": "code", "type": "nominal", "sort": null}, "text": {"field": "code"}}},
{"data": {"values": [{"g": "Sismos Volcánicos"}]},
 "mark": {"type": "text", "baseline": "middle", "dy": -20.5, "dx": -116.5, "font": "Liberation Serif", "fontSize": 15.5, "fontWeight": "bold", "color": "#000000"},
 "encoding": {"text": {"field": "g"}}}
]
},
{
"width": 180, "height": 60,
"data": {"name": "legN"},
"layer": [
{"mark": {"type": "point", "shape": "circle", "filled": true, "size": 144, "stroke": "#000000", "strokeWidth": 1, "opacity": 1},
 "encoding": {"x": {"field": "code", "type": "nominal", "axis": null, "sort": null, "scale": {"type": "point", "domain": ["ZZ","CN","RY","TL","RE","DS"], "range": [15.3, 165.3], "padding": 0}},
   "color": {"field": "code", "type": "nominal", "legend": null,
     "scale": {"domain": ["VT","LP","BQ","HB","TR","TI","EX","SM","TO","AV","IC","CA","IF","SD","ZZ","CN","RY","TL","RE","DS"],
               "range": ["#FF0000","#FFFF00","#F0E6A8","#FF8000","#1E90FF","#00FFFF","#800080","#EEAAEE","#FFA500","#1F8060","#D8D8D8","#4B2845","#FF00FF","#32CD32","#8A2BE2","#5A3C5A","#553355","#0000FF","#6E6E6E","#D2B48C"]}}}},
{"mark": {"type": "text", "baseline": "middle", "dy": 18.5, "dx": -1.5, "font": "Liberation Serif", "fontSize": 15, "fontWeight": "bold", "color": "#000000"},
 "encoding": {"x": {"field": "code", "type": "nominal", "sort": null}, "text": {"field": "code"}}},
{"data": {"values": [{"g": "Sismos No Volcánicos"}]},
 "mark": {"type": "text", "baseline": "middle", "dy": -20.5, "dx": 6, "font": "Liberation Serif", "fontSize": 15.5, "fontWeight": "bold", "color": "#000000"},
 "encoding": {"text": {"field": "g"}}}
]
}
],
"spacing": 1229.3
}
]
}
